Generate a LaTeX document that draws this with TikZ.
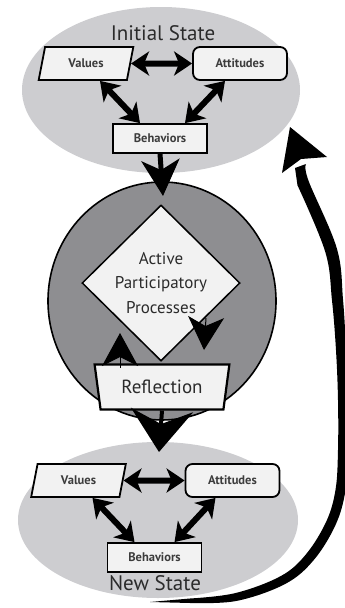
\documentclass[tikz,border=0pt]{standalone}
\usepackage{fontspec}
\setmainfont{PT Sans}
\usetikzlibrary{shapes.geometric,arrows.meta}
\definecolor{lgray}{HTML}{CDCDD0}
\definecolor{dgray}{HTML}{8E8E91}
\definecolor{boxfill}{HTML}{F2F2F2}
\definecolor{txt}{HTML}{2B2B2B}
\definecolor{btxt}{HTML}{3C3C3C}
\begin{document}
\begin{tikzpicture}[x=1pt,y=-1pt,
  boxlabel/.style={font=\bfseries\fontsize{12.5}{14}\selectfont, text=btxt},
  para/.style={trapezium, trapezium left angle=73, trapezium right angle=107,
    trapezium stretches=true, minimum width=95, minimum height=33, inner sep=0,
    draw, line width=1.8, fill=boxfill, boxlabel},
  rbox/.style={rectangle, rounded corners=7, minimum width=94, minimum height=33,
    draw, line width=1.8, fill=boxfill, boxlabel},
  sbox/.style={rectangle, minimum width=94, minimum height=29,
    draw, line width=1.8, fill=boxfill, boxlabel},
  title/.style={font=\fontsize{21}{24}\selectfont, text=txt},
  dbl/.style={line width=6, {Stealth[length=18,width=24,inset=5]}-{Stealth[length=18,width=24,inset=5]}},
  bigarr/.style={line width=5, -{Stealth[length=36,width=38,inset=10]}},
  headonly/.style={line width=1, -{Stealth[length=33,width=36,inset=9]}}
]
\useasboundingbox (0,0) rectangle (345,608);

% background shapes
\node[ellipse, fill=lgray, minimum width=278, minimum height=166, inner sep=0] (topell) at (161,90) {};
\node[ellipse, fill=lgray, minimum width=280, minimum height=156, inner sep=0] (botell) at (158,520) {};
\node[ellipse, draw, line width=1.6, fill=dgray, minimum width=228, minimum height=238, inner sep=0] (circ) at (162,301) {};
\node[diamond, draw, line width=1.5, fill=boxfill, minimum width=158, minimum height=156, inner sep=0] (dia) at (161,283) {};
\node[font=\fontsize{17}{24.5}\selectfont, align=center, text=txt] (diat) at (161,283) {Active\\Participatory\\Processes};

% initial state
\node[title] (init) at (163,33) {Initial State};
\node[para] (v1) at (86,63.5) {Values};
\node[rbox] (a1) at (240,63.5) {Attitudes};
\node[sbox] (b1) at (160,138.5) {Behaviors};
\draw[dbl] (v1.east) -- (a1.west);
\draw[dbl] ([xshift=14]v1.south) -- ([xshift=-20]b1.north);
\draw[dbl] ([xshift=-15]a1.south) -- ([xshift=25]b1.north);
\coordinate (c1) at (163,196);
\draw[bigarr] (b1.south) -- (c1);

% reflection
\node[trapezium, trapezium left angle=106, trapezium right angle=106,
  trapezium stretches=true, minimum width=135, minimum height=45, inner sep=0,
  draw, line width=2.2, fill=boxfill, font=\fontsize{19}{22}\selectfont, text=txt] (refl) at (162,387) {Reflection};
\coordinate (p7s) at (206,318);
\coordinate (p7e) at (204,350);
\draw[headonly] (p7s) -- (p7e);
\coordinate (p8s) at (120,368);
\coordinate (p8e) at (120,333);
\draw[headonly] (p8s) -- (p8e);
\coordinate (c2) at (159,452);
\draw[line width=4, -{Stealth[length=42,width=62,inset=14]}] (refl.south) -- (c2);

% new state
\node[para] (v2) at (78.5,480.5) {Values};
\node[rbox] (a2) at (232.5,480.5) {Attitudes};
\node[sbox] (b2) at (154.5,557.5) {Behaviors};
\node[title] (newst) at (155,583) {New State};
\draw[dbl] (v2.east) -- (a2.west);
\draw[dbl] ([xshift=14]v2.south) -- ([xshift=-20]b2.north);
\draw[dbl] ([xshift=-17]a2.south) -- ([xshift=20]b2.north);

% feedback curve (tapered), from below New State back to Initial State
\coordinate (cs) at (150,602);
\coordinate (ce) at (290,127);
\fill (cs) -- plot[smooth, tension=0.6] coordinates {(190.1,603) (236.7,600.9) (285.1,584) (313.7,560.1) (335.5,525)
   (345.4,490.8) (348,450) (348,400) (346,349.7) (343,299.5) (336.8,248.3) (308.5,180.7) (306,164)}
  -- (295,168) -- plot[smooth, tension=0.6] coordinates {(297.5,185.3) (325.2,251.7) (332,300.5) (336,350.3) (338,400)
   (338,450) (335.6,489.2) (326.5,521) (306.3,553.9) (280.9,576) (235.3,593.1) (189.9,598.5)} -- cycle;
\fill (ce) -- (327,157) -- (301,159) -- (282,173) -- cycle;
\end{tikzpicture}
\end{document}
